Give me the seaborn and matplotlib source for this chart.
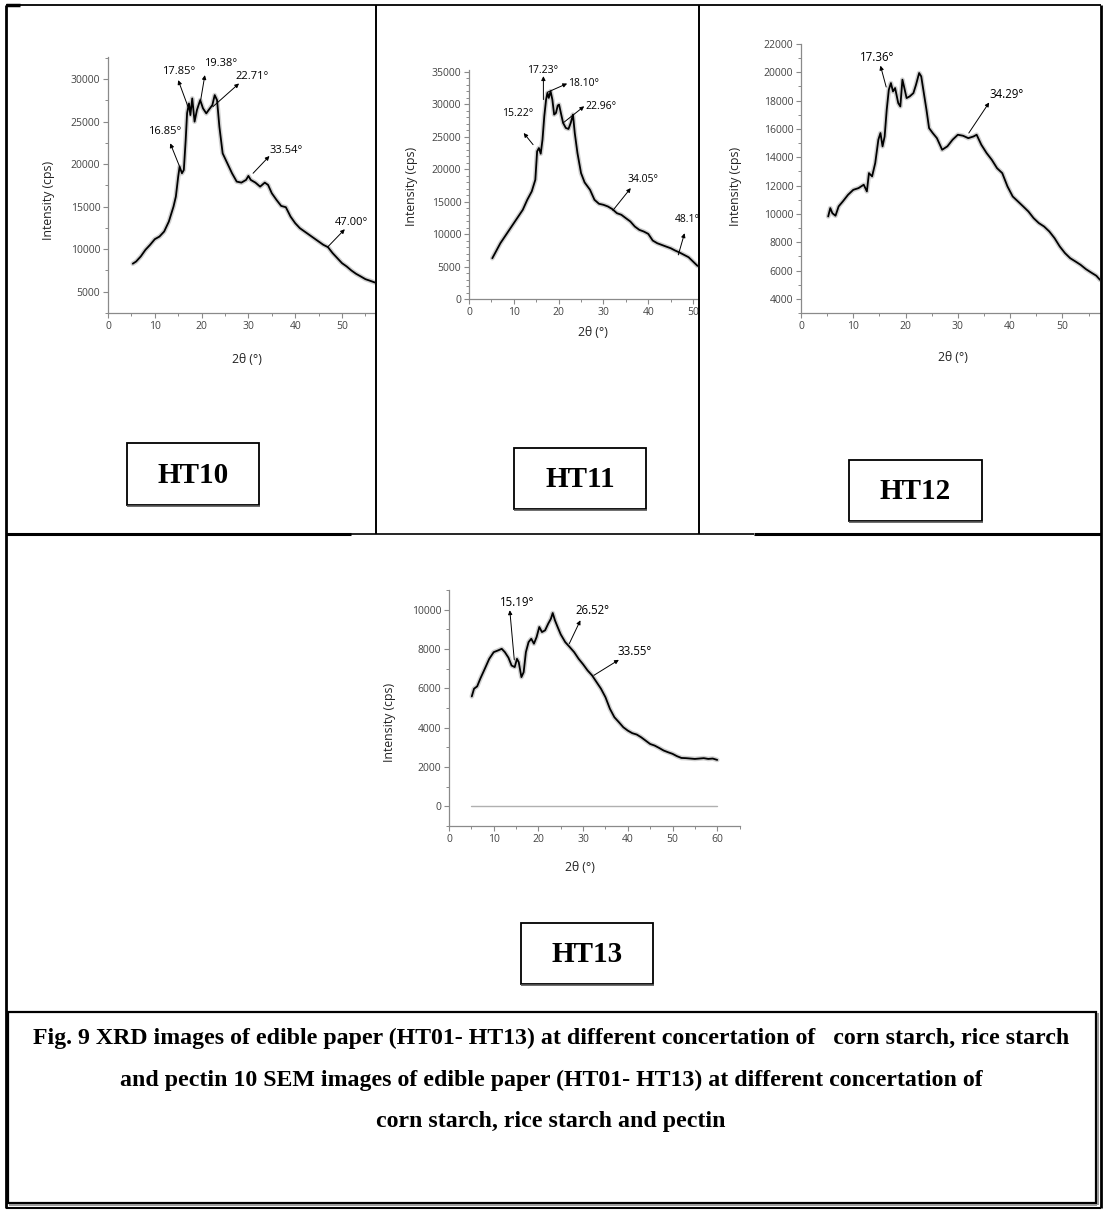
import numpy as np
import matplotlib
matplotlib.use("Agg")
import matplotlib.pyplot as plt
import seaborn as sns
from matplotlib.lines import Line2D
from matplotlib.patches import Rectangle
from matplotlib.ticker import MultipleLocator, AutoMinorLocator, FuncFormatter
from matplotlib.transforms import Bbox, TransformedBbox

# ---------------- XRD traces (2theta in degrees, intensity in cps) ----------------
ht10_2theta = [5.3, 6.0, 7.0, 8.0, 9.0, 10.0, 11.0, 12.0, 13.0, 14.0, 14.5, 15.0, 15.3, 15.8,
               16.2, 16.6, 16.9, 17.3, 17.6, 18.0, 18.5, 19.0, 19.7, 20.3, 21.0, 21.5, 22.3,
               22.8, 23.3, 23.8, 24.5, 25.5, 26.5, 27.5, 28.5, 29.5, 30.0, 30.5, 31.5, 32.5,
               33.5, 34.2, 35.0, 36.0, 37.0, 38.0, 39.0, 40.0, 41.0, 42.0, 43.0, 44.0, 45.0,
               46.0, 47.0, 48.0, 49.0, 50.0, 51.0, 52.0, 53.0, 54.0, 55.0, 56.0, 57.0]
ht10_counts = [8300, 8550, 9150, 9930, 10520, 11180, 11490, 12080, 13250, 15020, 16190, 18540,
               19710, 18930, 19320, 22840, 26000, 27140, 25770, 27730, 25000, 26360, 27530,
               26560, 25970, 26360, 26950, 28120, 27530, 24400, 21270, 20100, 18930, 17950,
               17830, 18150, 18620, 18150, 17830, 17360, 17830, 17560, 16580, 15800, 15090,
               14940, 13840, 13060, 12470, 12080, 11690, 11300, 10910, 10520, 10240, 9540,
               8950, 8360, 7970, 7500, 7110, 6800, 6480, 6290, 6090]

ht11_2theta = [5.2, 6.0, 7.0, 8.0, 9.0, 10.0, 11.0, 12.0, 13.0, 14.0, 14.8, 15.2, 15.6, 16.0,
               16.4, 16.8, 17.2, 17.5, 17.8, 18.2, 18.6, 19.0, 19.4, 19.8, 20.1, 20.5, 21.0,
               21.6, 22.2, 22.7, 23.2, 23.6, 24.2, 25.0, 25.8, 27.0, 28.0, 29.0, 30.0, 31.0,
               32.0, 33.0, 34.0, 35.0, 36.0, 37.0, 38.0, 39.0, 40.0, 41.0, 42.0, 43.0, 44.0,
               45.0, 46.0, 47.0, 48.0, 49.0, 50.0, 51.0]
ht11_counts = [6280, 7310, 8600, 9630, 10660, 11690, 12720, 13750, 15290, 16580, 18380, 22760,
               23270, 22400, 24560, 28170, 30740, 31770, 31000, 32030, 30740, 28430, 28680,
               29820, 29970, 28680, 27140, 26370, 26210, 27140, 28430, 25590, 22500, 19410,
               17970, 16840, 15290, 14680, 14520, 14260, 13850, 13230, 12980, 12460, 11950,
               11170, 10660, 10400, 10040, 9010, 8600, 8340, 8080, 7830, 7470, 7160, 6800,
               6440, 5770, 5100]

ht12_2theta = [5.2, 5.6, 6.0, 6.6, 7.2, 8.0, 9.0, 10.0, 11.0, 12.0, 12.6, 13.0, 13.6, 14.2,
               14.8, 15.2, 15.6, 16.0, 16.4, 16.8, 17.2, 17.6, 18.0, 18.6, 19.0, 19.4, 19.7,
               20.2, 20.8, 21.5, 22.0, 22.6, 23.0, 23.5, 24.0, 24.5, 25.2, 26.0, 27.0, 28.0,
               29.0, 30.0, 31.0, 32.0, 33.0, 33.6, 34.5, 35.5, 36.5, 37.5, 38.5, 39.5, 40.5,
               41.5, 42.5, 43.5, 44.5, 45.5, 46.5, 47.5, 48.5, 49.5, 50.5, 51.5, 52.5, 53.5,
               54.5, 55.5, 56.5, 57.2]
ht12_counts = [9820, 10410, 10050, 9870, 10530, 10880, 11350, 11700, 11820, 12060, 11590,
               12880, 12650, 13590, 15240, 15710, 14770, 15470, 17360, 18770, 19240, 18650,
               18890, 17830, 17590, 19480, 19010, 18180, 18300, 18530, 19120, 19950, 19710,
               18530, 17360, 16060, 15710, 15350, 14530, 14770, 15240, 15590, 15520, 15350,
               15470, 15590, 14880, 14300, 13820, 13230, 12880, 11940, 11230, 10880, 10530,
               10170, 9700, 9350, 9110, 8760, 8290, 7700, 7230, 6870, 6640, 6400, 6100, 5860,
               5630, 5340]

ht13_2theta = [5.1, 5.6, 6.3, 7.0, 8.0, 9.0, 10.0, 11.0, 11.8, 12.5, 13.3, 14.0, 14.7, 15.2,
               15.6, 16.2, 16.7, 17.2, 17.8, 18.4, 19.0, 19.6, 20.2, 20.8, 21.5, 22.2, 22.8,
               23.2, 23.7, 24.3, 25.0, 26.0, 27.0, 28.0, 29.0, 30.0, 31.0, 32.0, 33.0, 34.0,
               35.0, 36.0, 37.0, 38.0, 39.0, 40.0, 41.0, 42.0, 43.0, 44.0, 45.0, 46.0, 47.0,
               48.0, 49.0, 50.0, 51.0, 52.0, 53.0, 55.0, 57.0, 58.0, 59.0, 60.0]
ht13_counts = [5590, 5980, 6100, 6490, 6990, 7500, 7840, 7930, 8010, 7840, 7560, 7160, 7080,
               7500, 7330, 6570, 6820, 7840, 8350, 8520, 8270, 8610, 9120, 8860, 8950, 9290,
               9540, 9830, 9460, 9120, 8740, 8350, 8100, 7840, 7500, 7220, 6910, 6660, 6320,
               5980, 5550, 4960, 4530, 4280, 4020, 3850, 3720, 3650, 3510, 3340, 3170, 3090,
               2970, 2840, 2750, 2670, 2550, 2460, 2450, 2410, 2450, 2410, 2430, 2360]
ht13_baseline_2theta = [5.0, 60.0]
ht13_baseline_counts = [0, 0]

# peak labels per sample
ht10_peaks = ["16.85°", "17.85°", "19.38°", "22.71°", "33.54°", "47.00°"]
ht11_peaks = ["15.22°", "17.23°", "18.10°", "22.96°", "34.05°", "48.1°"]
ht12_peaks = ["17.36°", "34.29°"]
ht13_peaks = ["15.19°", "26.52°", "33.55°"]

sample_names = ["HT10", "HT11", "HT12", "HT13"]
caption_lines = [
    "Fig. 9 XRD images of edible paper (HT01- HT13) at different concertation of   corn starch, rice starch",
    "and pectin 10 SEM images of edible paper (HT01- HT13) at different concertation of",
    "corn starch, rice starch and pectin",
]

# ---------------- figure setup ----------------
sns.set_theme(style="white")
plt.rcParams["font.family"] = ["Open Sans", "DejaVu Sans"]

W, H = 1104, 1212
fig = plt.figure(figsize=(W / 100, H / 100), dpi=100)
fig.patch.set_facecolor("white")


def fx(x):
    return x / W


def fy(y):
    return 1 - y / H


def hline(x0, x1, y, lw=1.5, color="black"):
    fig.add_artist(Line2D([fx(x0), fx(x1)], [fy(y), fy(y)], lw=lw, color=color,
                          transform=fig.transFigure, solid_capstyle="butt"))


def vline(x, y0, y1, lw=1.5, color="black"):
    fig.add_artist(Line2D([fx(x), fx(x)], [fy(y0), fy(y1)], lw=lw, color=color,
                          transform=fig.transFigure, solid_capstyle="butt"))


# table grid around the panels
hline(6, 1101, 5, lw=1.3)
hline(6, 20, 5, lw=2.5)
vline(6, 5, 1208, lw=2.0)
vline(1101, 5, 1208, lw=2.0)
hline(6, 1101, 1208, lw=1.5)
vline(375.5, 5, 534, lw=1.4)
vline(699, 5, 534, lw=1.4)
hline(6, 351, 534, lw=2.2)
hline(351, 754, 534, lw=1.2)
hline(754, 1101, 534, lw=2.2)

# caption box
fig.add_artist(Rectangle((fx(8), fy(1203)), fx(1096) - fx(8), fy(1012) - fy(1203),
                         transform=fig.transFigure, fill=False, lw=1.6, ec="black"))
hline(9, 1097, 1205, lw=1.2, color="#888888")
vline(1098, 1013, 1205, lw=1.2, color="#888888")
for i, line in enumerate(caption_lines):
    fig.text(fx(551), fy(1038 + 42 * i), line, ha="center", va="center",
             fontsize=17.2, fontweight="bold", family="Liberation Serif", color="black")

# sample name boxes (x0, y0, x1, y1 in pixels)
name_boxes = [(127, 443, 259, 505), (514, 448, 646, 509), (849, 460, 982, 521),
              (521, 923, 653, 984)]
for name, (x0, y0, x1, y1) in zip(sample_names, name_boxes):
    fig.add_artist(Rectangle((fx(x0), fy(y1)), fx(x1) - fx(x0), fy(y0) - fy(y1),
                             transform=fig.transFigure, fill=False, lw=1.3, ec="black"))
    hline(x0, x1 + 1, y1 + 1, lw=1.2, color="#555555")
    fig.text(fx((x0 + x1) / 2), fy((y0 + y1) / 2 + 1), name, ha="center", va="center",
             fontsize=21, fontweight="bold", family="Liberation Serif", color="black")

# ---------------- XRD panels ----------------
panels = [
    dict(x=ht10_2theta, y=ht10_counts, rect=(108, 57, 375, 313), xlim=(0, 57.05),
         ylim=(2500, 32600), ystep=5000, yminor=2, cell=(7, 6, 375, 533),
         ylab=(-0.197, 0.44), xlab=(0.52, -0.155), fs=8,
         peaks=ht10_peaks,
         tails=[(15.3, 19710), (17.1, 26750), (19.8, 27530), (22.4, 26750), (31.0, 18930), (46.9, 10240)],
         heads=[(13.3, 22450), (15.0, 29880), (20.7, 30470), (28.0, 29490), (34.5, 20960), (50.6, 12350)],
         texts=[(12.1, 23820), (15.2, 30900), (24.1, 31840), (30.8, 30350), (38.0, 21590), (52.1, 13180)]),
    dict(x=ht11_2theta, y=ht11_counts, rect=(469, 70, 698, 299), xlim=(0, 51.1),
         ylim=(0, 35300), ystep=5000, yminor=5, cell=(376, 6, 698, 533),
         ylab=(-0.222, 0.49), xlab=(0.54, -0.117), fs=7.5,
         peaks=ht11_peaks,
         tails=[(14.3, 23790), (16.6, 30740), (17.5, 31870), (21.0, 27140), (32.1, 13650), (46.7, 6800)],
         heads=[(12.2, 25590), (16.6, 34350), (21.9, 33210), (25.7, 29710), (36.1, 17100), (48.1, 10140)],
         texts=[(10.9, 28530), (16.5, 35270), (25.5, 33210), (29.5, 29610), (38.8, 18380), (48.7, 12200)]),
    dict(x=ht12_2theta, y=ht12_counts, rect=(801, 44, 1100, 313), xlim=(0, 57.2),
         ylim=(3000, 22000), ystep=2000, yminor=2, cell=(700, 6, 1100, 533),
         ylab=(-0.197, 0.47), xlab=(0.507, -0.143), fs=8.3,
         peaks=ht12_peaks,
         tails=[(16.3, 18960), (32.1, 15710)],
         heads=[(15.2, 20470), (36.0, 17870)],
         texts=[(14.6, 21080), (39.3, 18420)]),
    dict(x=ht13_2theta, y=ht13_counts, rect=(449, 590, 740, 826), xlim=(0, 65.1),
         ylim=(-1000, 11000), ystep=2000, yminor=2, cell=(7, 535, 1100, 1010),
         ylab=(-0.182, 0.44), xlab=(0.45, -0.148), fs=8.3,
         peaks=ht13_peaks,
         tails=[(14.6, 7450), (26.9, 8270), (32.4, 6660)],
         heads=[(13.6, 9970), (29.4, 9460), (38.0, 7450)],
         texts=[(15.2, 10340), (32.2, 9970), (41.6, 7880)]),
]

for k, p in enumerate(panels):
    x0, y0, x1, y1 = p["rect"]
    ax = fig.add_axes([fx(x0), fy(y1), (x1 - x0) / W, (y1 - y0) / H])
    ax.set_facecolor("none")

    # soft grey halo under the trace gives the noisy band of the scan
    sns.lineplot(x=p["x"], y=p["y"], ax=ax, color="#9a9a9a", linewidth=3.4, alpha=0.45,
                 estimator=None, sort=False)
    sns.lineplot(x=p["x"], y=p["y"], ax=ax, color="black", linewidth=1.3,
                 estimator=None, sort=False)
    if k == 3:
        sns.lineplot(x=ht13_baseline_2theta, y=ht13_baseline_counts, ax=ax, color="#b0b0b0",
                     linewidth=1.0, estimator=None, sort=False)

    ax.set_xlim(*p["xlim"])
    ax.set_ylim(*p["ylim"])
    ax.xaxis.set_major_locator(MultipleLocator(10))
    ax.xaxis.set_minor_locator(AutoMinorLocator(2))
    ax.yaxis.set_major_locator(MultipleLocator(p["ystep"]))
    ax.yaxis.set_minor_locator(AutoMinorLocator(p["yminor"]))
    ax.yaxis.set_major_formatter(FuncFormatter(lambda v, pos: f"{int(round(v))}"))
    ax.xaxis.set_major_formatter(FuncFormatter(lambda v, pos: f"{int(round(v))}"))

    for side in ("top", "right"):
        ax.spines[side].set_visible(False)
    for side in ("left", "bottom"):
        ax.spines[side].set_color("#8a8a8a")
        ax.spines[side].set_linewidth(0.9)
    ax.tick_params(which="major", direction="out", length=3.5, width=0.8, color="#8a8a8a",
                   labelsize=7.5, labelcolor="#444444", pad=2, left=True, bottom=True)
    ax.tick_params(which="minor", direction="out", length=2, width=0.7, color="#8a8a8a",
                   left=True, bottom=True)

    ax.set_ylabel("Intensity (cps)", fontsize=8.8, color="#222222")
    ax.set_xlabel("2θ (°)", fontsize=8.8, color="#222222")
    ax.yaxis.set_label_coords(*p["ylab"])
    ax.xaxis.set_label_coords(*p["xlab"])

    cx0, cy0, cx1, cy1 = p["cell"]
    cell_box = TransformedBbox(Bbox([[fx(cx0), fy(cy1)], [fx(cx1), fy(cy0)]]), fig.transFigure)
    for lab, tail, head, tpos in zip(p["peaks"], p["tails"], p["heads"], p["texts"]):
        ax.annotate("", xy=head, xytext=tail, annotation_clip=False,
                    arrowprops=dict(arrowstyle="-|>", color="black", lw=0.7,
                                    mutation_scale=6, shrinkA=0, shrinkB=0))
        t = ax.text(tpos[0], tpos[1], lab, ha="center", va="center", fontsize=p["fs"],
                    color="black")
        t.set_clip_box(cell_box)
        t.set_clip_on(True)

fig.savefig("out.png", dpi=100, facecolor="white")
